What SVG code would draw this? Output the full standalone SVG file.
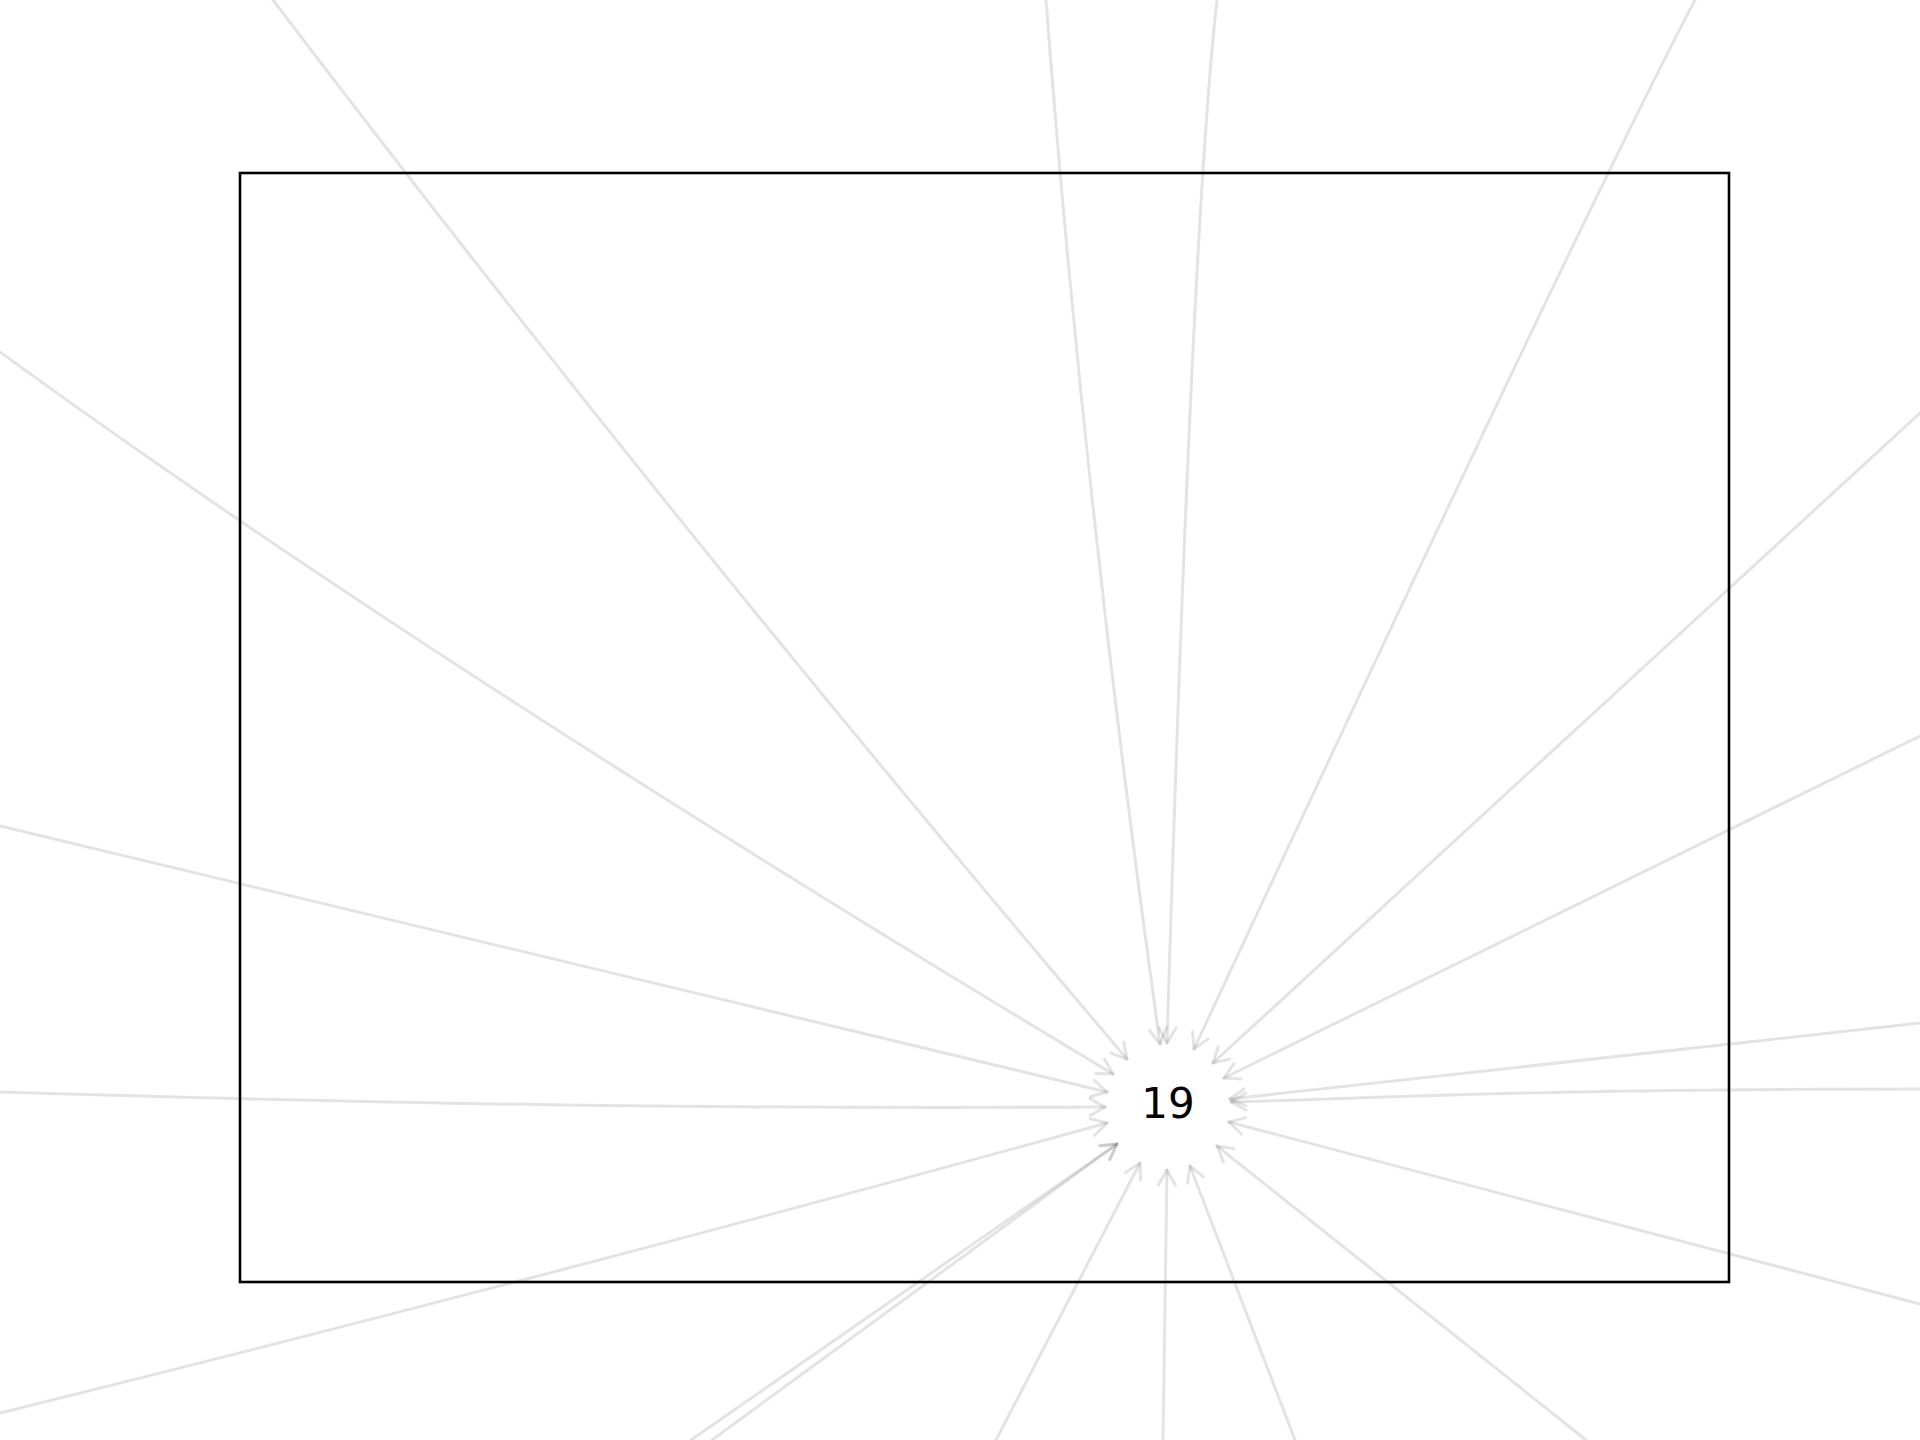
<svg xmlns="http://www.w3.org/2000/svg" width="1920" height="1440" viewBox="0 0 1920 1440">
<style>
.edge{fill:none;stroke:#000;stroke-opacity:0.11;stroke-width:3;stroke-linecap:round;marker-end:url(#arr)}
.frame{fill:none;stroke:#000;stroke-width:2.6}
.lbl{font-family:"DejaVu Sans",sans-serif;font-size:42px;fill:#000;text-anchor:middle}
</style>
<defs>
<marker id="arr" markerUnits="userSpaceOnUse" viewBox="-18 -11 20 22" refX="0" refY="0" markerWidth="20" markerHeight="22" orient="auto" overflow="visible">
<path d="M-15,-8.5 L0,0 L-15,8.5" fill="none" stroke="#000" stroke-opacity="0.11" stroke-width="3" stroke-linecap="round" stroke-linejoin="round"/>
</marker>
</defs>
<rect width="1920" height="1440" fill="#fff"/>
<g id="frame"><rect class="frame" x="240" y="173" width="1489" height="1109"/></g>
<g id="connectors">
<path class="edge" d="M273,0 Q662,512 1127,1059"/>
<path class="edge" d="M0,352 Q417,656 1113,1074"/>
<path class="edge" d="M0,826 L1107,1092"/>
<path class="edge" d="M0,1092 C400,1104 700,1109 1105,1107"/>
<path class="edge" d="M0,1413 Q553,1276 1107,1123"/>
<path class="edge" d="M691,1440 Q947,1262 1117,1144"/>
<path class="edge" d="M712,1440 Q930,1280 1117,1144"/>
<path class="edge" d="M996,1440 L1140,1163"/>
<path class="edge" d="M1163,1440 L1167,1170"/>
<path class="edge" d="M1295,1440 L1190,1166"/>
<path class="edge" d="M1586,1440 L1217,1146"/>
<path class="edge" d="M1920,1304 L1229,1122"/>
<path class="edge" d="M1920,1089 C1550,1089 1400,1097 1231,1102"/>
<path class="edge" d="M1920,1023 L1230,1099"/>
<path class="edge" d="M1920,736 L1224,1078"/>
<path class="edge" d="M1920,413 L1213,1063"/>
<path class="edge" d="M1695,0 Q1590,199 1194,1049"/>
<path class="edge" d="M1217,0 Q1192,220 1167,1043"/>
<path class="edge" d="M1046,0 Q1084,501 1160,1044"/>
</g>
<g id="node-19"><text class="lbl" x="1168" y="1118">19</text></g>
</svg>
